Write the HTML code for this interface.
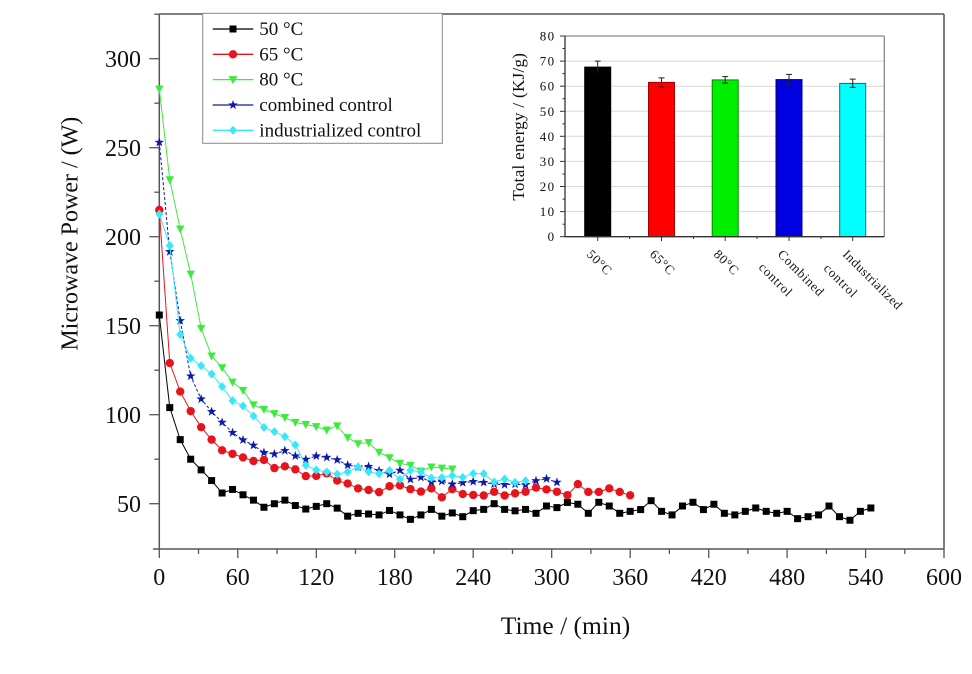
<!DOCTYPE html>
<html><head><meta charset="utf-8">
<style>
html,body{margin:0;padding:0;background:#fff;}
svg{display:block;}
text{font-family:"Liberation Serif","DejaVu Serif",serif;fill:#111;}
</style></head>
<body>
<svg width="972" height="674" viewBox="0 0 972 674" xmlns="http://www.w3.org/2000/svg">
<defs>
  <marker id="msq" markerUnits="userSpaceOnUse" overflow="visible" refX="0" refY="0" markerWidth="1" markerHeight="1">
    <rect x="-2.676" y="-1.966" width="5.352" height="3.932" fill="#000"/>
  </marker>
  <marker id="mci" markerUnits="userSpaceOnUse" overflow="visible" refX="0" refY="0" markerWidth="1" markerHeight="1">
    <ellipse cx="0" cy="0" rx="3.21" ry="2.36" fill="#e8141c"/>
  </marker>
  <marker id="mtr" markerUnits="userSpaceOnUse" overflow="visible" refX="0" refY="0" markerWidth="1" markerHeight="1">
    <polygon points="-3.2,1.966 3.2,1.966 0,-2.528" fill="#3deb3d"/>
  </marker>
  <marker id="mst" markerUnits="userSpaceOnUse" overflow="visible" refX="0" refY="0" markerWidth="1" markerHeight="1">
    <polygon points="0,2.809 0.899,0.909 3.635,0.868 1.454,-0.347 2.247,-2.272 0,-1.124 -2.247,-2.272 -1.454,-0.347 -3.635,0.868 -0.899,0.909" fill="#0d1aa8"/>
  </marker>
  <marker id="mdi" markerUnits="userSpaceOnUse" overflow="visible" refX="0" refY="0" markerWidth="1" markerHeight="1">
    <polygon points="0,2.528 3.058,0 0,-2.528 -3.058,0" fill="#38e8f8"/>
  </marker>
</defs>

<!-- main frame -->
<g stroke="#555" stroke-width="1.5" fill="none">
  <line x1="153" y1="549" x2="944" y2="549"/>
  <line x1="159.3" y1="14" x2="159.3" y2="549"/>
  <line x1="159.3" y1="14" x2="944" y2="14"/>
  <line x1="944" y1="14" x2="944" y2="549"/>
</g>
<!-- x ticks -->
<g stroke="#555" stroke-width="1.3">
  <line x1="159.3" y1="549" x2="159.3" y2="558"/>
  <line x1="237.8" y1="549" x2="237.8" y2="558"/>
  <line x1="316.3" y1="549" x2="316.3" y2="558"/>
  <line x1="394.7" y1="549" x2="394.7" y2="558"/>
  <line x1="473.2" y1="549" x2="473.2" y2="558"/>
  <line x1="551.7" y1="549" x2="551.7" y2="558"/>
  <line x1="630.2" y1="549" x2="630.2" y2="558"/>
  <line x1="708.7" y1="549" x2="708.7" y2="558"/>
  <line x1="787.1" y1="549" x2="787.1" y2="558"/>
  <line x1="865.6" y1="549" x2="865.6" y2="558"/>
  <line x1="944" y1="549" x2="944" y2="558"/>
  <line x1="198.5" y1="549" x2="198.5" y2="554"/>
  <line x1="277" y1="549" x2="277" y2="554"/>
  <line x1="355.5" y1="549" x2="355.5" y2="554"/>
  <line x1="434" y1="549" x2="434" y2="554"/>
  <line x1="512.5" y1="549" x2="512.5" y2="554"/>
  <line x1="590.9" y1="549" x2="590.9" y2="554"/>
  <line x1="669.4" y1="549" x2="669.4" y2="554"/>
  <line x1="747.9" y1="549" x2="747.9" y2="554"/>
  <line x1="826.4" y1="549" x2="826.4" y2="554"/>
  <line x1="904.8" y1="549" x2="904.8" y2="554"/>
</g>
<!-- y ticks -->
<g stroke="#555" stroke-width="1.3">
  <line x1="149.3" y1="503.7" x2="159.3" y2="503.7"/>
  <line x1="149.3" y1="414.7" x2="159.3" y2="414.7"/>
  <line x1="149.3" y1="325.7" x2="159.3" y2="325.7"/>
  <line x1="149.3" y1="236.7" x2="159.3" y2="236.7"/>
  <line x1="149.3" y1="147.7" x2="159.3" y2="147.7"/>
  <line x1="149.3" y1="58.7" x2="159.3" y2="58.7"/>
  <line x1="154.3" y1="459.2" x2="159.3" y2="459.2"/>
  <line x1="154.3" y1="370.2" x2="159.3" y2="370.2"/>
  <line x1="154.3" y1="281.2" x2="159.3" y2="281.2"/>
  <line x1="154.3" y1="192.2" x2="159.3" y2="192.2"/>
  <line x1="154.3" y1="103.2" x2="159.3" y2="103.2"/>
  <line x1="154.3" y1="14.2" x2="159.3" y2="14.2"/>
</g>
<!-- tick labels -->
<g font-size="24" text-anchor="middle">
  <text x="159.3" y="585">0</text>
  <text x="237.8" y="585">60</text>
  <text x="316.3" y="585">120</text>
  <text x="394.7" y="585">180</text>
  <text x="473.2" y="585">240</text>
  <text x="551.7" y="585">300</text>
  <text x="630.2" y="585">360</text>
  <text x="708.7" y="585">420</text>
  <text x="787.1" y="585">480</text>
  <text x="865.6" y="585">540</text>
  <text x="944" y="585">600</text>
</g>
<g font-size="24" text-anchor="end">
  <text x="141" y="512">50</text>
  <text x="141" y="423">100</text>
  <text x="141" y="334">150</text>
  <text x="141" y="245">200</text>
  <text x="141" y="156">250</text>
  <text x="141" y="67">300</text>
</g>
<text x="565.5" y="634" font-size="25.5" text-anchor="middle">Time / (min)</text>
<text transform="translate(77.5,233.7) rotate(-90)" font-size="24" text-anchor="middle">Microwave Power / (W)</text>

<!-- data series -->
<g transform="translate(159.3,592.7) scale(1.308,-1.78)" fill="none">
  <polyline vector-effect="non-scaling-stroke" stroke="#000" stroke-width="1" marker-start="url(#msq)" marker-mid="url(#msq)" marker-end="url(#msq)"
   points="0,156 8,104 16,86 24,75 32,69 40,63 48,56 56,58 64,55 72,52 80,48 88,50 96,52 104,49 112,47 120,48.5 128,50 136,47.5 144,43 152,44.6 160,44.2 168,43.7 176,46.2 184,43.7 192,41.2 200,43.7 208,46.8 216,43 224,44.8 232,42.7 240,46.1 248,46.8 256,50 264,46.8 272,46 280,46.8 288,44.6 296,48.7 304,47.8 312,50.7 320,49.7 328,44.6 336,50.8 344,48.7 352,44.6 360,45.7 368,46.7 376,51.7 384,45.7 392,43.7 400,48.7 408,50.8 416,46.7 424,49.7 432,44.6 440,43.7 448,45.7 456,47.6 464,45.7 472,44.6 480,45.7 488,41.6 496,42.7 504,43.7 512,48.7 520,42.7 528,40.7 536,45.7 544,47.6"/>
  <polyline vector-effect="non-scaling-stroke" stroke="#e8141c" stroke-width="1" marker-start="url(#mci)" marker-mid="url(#mci)" marker-end="url(#mci)"
   points="0,215 8,129 16,113 24,102 32,93 40,86 48,80 56,78 64,76 72,74 80,74.6 88,70 96,71 104,69.3 112,65.5 120,65.6 128,67 136,63 144,61.3 152,58.6 160,57.7 168,56.5 176,59.8 184,60.3 192,58.2 200,56.8 208,58.6 216,53.6 224,58.2 232,55.4 240,54.9 248,54.6 256,56.7 264,54.6 272,55.8 280,56.7 288,59 296,58 304,56.7 312,54.8 320,61 328,56.6 336,56.6 344,58.6 352,56.6 360,54.7"/>
  <polyline vector-effect="non-scaling-stroke" stroke="#3deb3d" stroke-width="1" marker-start="url(#mtr)" marker-mid="url(#mtr)" marker-end="url(#mtr)"
   points="0,283 8,232 16,204.3 24,179 32,148.5 40,133 48,126.4 56,118.3 64,113.7 72,105.5 80,103 88,100.6 96,98.4 104,95.7 112,94.5 120,93.3 128,91.4 136,93.7 144,87.1 152,83.7 160,84.3 168,78.9 176,75.8 184,72.7 192,71.5 200,68.4 208,70.6 216,70 224,69.5"/>
  <polyline vector-effect="non-scaling-stroke" stroke="#0d1aa8" stroke-width="1" stroke-dasharray="3 2" marker-start="url(#mst)" marker-mid="url(#mst)" marker-end="url(#mst)"
   points="0,253 8,191.6 16,152.8 24,121.7 32,108.8 40,101.7 48,95.7 56,89.9 64,85.8 72,82.8 80,78.7 88,77.9 96,79.8 104,76.8 112,74.9 120,76.8 128,76 136,74.6 144,71.7 152,70.6 160,70.9 168,68.5 176,66.6 184,68.7 192,63.7 200,64.8 208,62.2 216,62.6 224,61 232,61.8 240,62.4 248,61.9 256,61 264,60.7 272,61 280,60.6 288,62.9 296,64 304,62"/>
  <polyline vector-effect="non-scaling-stroke" stroke="#38e8f8" stroke-width="1" marker-start="url(#mdi)" marker-mid="url(#mdi)" marker-end="url(#mdi)"
   points="0,212.7 8,195 16,145.1 24,131.7 32,127.5 40,122.9 48,115.8 56,107.9 64,104.9 72,99.3 80,92.9 88,90.5 96,87.7 104,83 112,71.6 120,68.9 128,67.8 136,66.6 144,67.9 152,70.6 160,67.9 168,66.8 176,68.7 184,63.7 192,68.7 200,67.8 208,64.5 216,64.7 224,65.8 232,64.8 240,67 248,66.8 256,62.2 264,63.9 272,62 280,62.9"/>
</g>

<!-- legend -->
<rect x="202.7" y="13.3" width="239.6" height="130" fill="#fff" stroke="#888" stroke-width="1"/>
<g stroke-width="1.3">
  <line x1="212.7" y1="29" x2="253.3" y2="29" stroke="#000"/>
  <rect x="229.5" y="25.5" width="7" height="7" fill="#000"/>
  <line x1="212.7" y1="54.3" x2="253.3" y2="54.3" stroke="#e8141c"/>
  <circle cx="233" cy="54.3" r="4.2" fill="#e8141c"/>
  <line x1="212.7" y1="79.6" x2="253.3" y2="79.6" stroke="#3deb3d"/>
  <polygon points="228.5,76.1 237.5,76.1 233,84.1" fill="#3deb3d"/>
  <line x1="212.7" y1="105" x2="253.3" y2="105" stroke="#0d1aa8"/>
  <polygon transform="translate(233,105)" points="0,-5 1.176,-1.618 4.755,-1.545 1.902,0.618 2.939,4.045 0,2 -2.939,4.045 -1.902,0.618 -4.755,-1.545 -1.176,-1.618" fill="#0d1aa8"/>
  <line x1="212.7" y1="130.3" x2="253.3" y2="130.3" stroke="#38e8f8"/>
  <polygon points="233,125.8 237,130.3 233,134.8 229,130.3" fill="#38e8f8"/>
</g>
<g font-size="19">
  <text x="259.3" y="35">50 °C</text>
  <text x="259.3" y="60.3">65 °C</text>
  <text x="259.3" y="85.6">80 °C</text>
  <text x="259.3" y="111">combined control</text>
  <text x="259.3" y="136.3">industrialized control</text>
</g>

<!-- inset -->
<g stroke="#d8d8d8" stroke-width="1">
  <line x1="565" y1="211.6" x2="884.3" y2="211.6"/>
  <line x1="565" y1="186.5" x2="884.3" y2="186.5"/>
  <line x1="565" y1="161.4" x2="884.3" y2="161.4"/>
  <line x1="565" y1="136.3" x2="884.3" y2="136.3"/>
  <line x1="565" y1="111.3" x2="884.3" y2="111.3"/>
  <line x1="565" y1="86.2" x2="884.3" y2="86.2"/>
  <line x1="565" y1="61.1" x2="884.3" y2="61.1"/>
</g>
<g stroke-width="1">
  <rect x="584.7" y="67.1" width="26" height="169.6" fill="#000" stroke="#000"/>
  <rect x="648.5" y="82.4" width="26" height="154.3" fill="#ff0000" stroke="#a00000"/>
  <rect x="712.2" y="79.9" width="26" height="156.8" fill="#00ee00" stroke="#008800"/>
  <rect x="776" y="79.6" width="26" height="157.1" fill="#0000e0" stroke="#000070"/>
  <rect x="839.7" y="83.4" width="26" height="153.3" fill="#00ffff" stroke="#007070"/>
</g>
<g stroke="#222" stroke-width="1">
  <line x1="597.7" y1="61.1" x2="597.7" y2="73.1"/><line x1="594.7" y1="61.1" x2="600.7" y2="61.1"/>
  <line x1="661.5" y1="77.9" x2="661.5" y2="86.9"/><line x1="658.5" y1="77.9" x2="664.5" y2="77.9"/><line x1="658.5" y1="86.9" x2="664.5" y2="86.9"/>
  <line x1="725.2" y1="76.6" x2="725.2" y2="83.1"/><line x1="722.2" y1="76.6" x2="728.2" y2="76.6"/><line x1="722.2" y1="83.1" x2="728.2" y2="83.1"/>
  <line x1="789" y1="74.4" x2="789" y2="84.7"/><line x1="786" y1="74.4" x2="792" y2="74.4"/><line x1="786" y1="84.7" x2="792" y2="84.7"/>
  <line x1="852.7" y1="79.1" x2="852.7" y2="87.4"/><line x1="849.7" y1="79.1" x2="855.7" y2="79.1"/><line x1="849.7" y1="87.4" x2="855.7" y2="87.4"/>
</g>
<g fill="none">
  <line x1="565" y1="36" x2="884.3" y2="36" stroke="#888" stroke-width="1.3"/>
  <line x1="884.3" y1="36" x2="884.3" y2="236.7" stroke="#888" stroke-width="1.3"/>
  <line x1="565" y1="36" x2="565" y2="236.7" stroke="#333" stroke-width="1.3"/>
  <line x1="565" y1="236.7" x2="884.3" y2="236.7" stroke="#333" stroke-width="1.3"/>
</g>
<g stroke="#333" stroke-width="1">
  <line x1="560" y1="236.7" x2="565" y2="236.7"/>
  <line x1="560" y1="211.6" x2="565" y2="211.6"/>
  <line x1="560" y1="186.5" x2="565" y2="186.5"/>
  <line x1="560" y1="161.4" x2="565" y2="161.4"/>
  <line x1="560" y1="136.3" x2="565" y2="136.3"/>
  <line x1="560" y1="111.3" x2="565" y2="111.3"/>
  <line x1="560" y1="86.2" x2="565" y2="86.2"/>
  <line x1="560" y1="61.1" x2="565" y2="61.1"/>
  <line x1="560" y1="36" x2="565" y2="36"/>
  <line x1="562.5" y1="224.2" x2="565" y2="224.2"/>
  <line x1="562.5" y1="199.1" x2="565" y2="199.1"/>
  <line x1="562.5" y1="174" x2="565" y2="174"/>
  <line x1="562.5" y1="148.9" x2="565" y2="148.9"/>
  <line x1="562.5" y1="123.8" x2="565" y2="123.8"/>
  <line x1="562.5" y1="98.7" x2="565" y2="98.7"/>
  <line x1="562.5" y1="73.6" x2="565" y2="73.6"/>
  <line x1="562.5" y1="48.5" x2="565" y2="48.5"/>
  <line x1="597.7" y1="236.7" x2="597.7" y2="241"/>
  <line x1="661.5" y1="236.7" x2="661.5" y2="241"/>
  <line x1="725.2" y1="236.7" x2="725.2" y2="241"/>
  <line x1="789" y1="236.7" x2="789" y2="241"/>
  <line x1="852.7" y1="236.7" x2="852.7" y2="241"/>
  <line x1="629.6" y1="236.7" x2="629.6" y2="239"/>
  <line x1="693.4" y1="236.7" x2="693.4" y2="239"/>
  <line x1="757.1" y1="236.7" x2="757.1" y2="239"/>
  <line x1="820.9" y1="236.7" x2="820.9" y2="239"/>
</g>
<g font-size="13" text-anchor="end" letter-spacing="1.4">
  <text x="555.5" y="241.2">0</text>
  <text x="555.5" y="216.1">10</text>
  <text x="555.5" y="191">20</text>
  <text x="555.5" y="165.9">30</text>
  <text x="555.5" y="140.8">40</text>
  <text x="555.5" y="115.8">50</text>
  <text x="555.5" y="90.7">60</text>
  <text x="555.5" y="65.6">70</text>
  <text x="555.5" y="40.5">80</text>
</g>
<text transform="translate(524,126.7) rotate(-90)" font-size="17" letter-spacing="0.3" text-anchor="middle">Total energy / (KJ/g)</text>
<g font-size="13" letter-spacing="0.7">
  <text transform="translate(586,255) rotate(45)">50°C</text>
  <text transform="translate(649,255) rotate(45)">65°C</text>
  <text transform="translate(713,255) rotate(45)">80°C</text>
  <text transform="translate(777,255) rotate(45)">Combined</text>
  <text transform="translate(758,268) rotate(45)">control</text>
  <text transform="translate(842,255) rotate(45)" letter-spacing="0.5">Industrialized</text>
  <text transform="translate(823,269) rotate(45)">control</text>
</g>
</svg>
</body></html>
